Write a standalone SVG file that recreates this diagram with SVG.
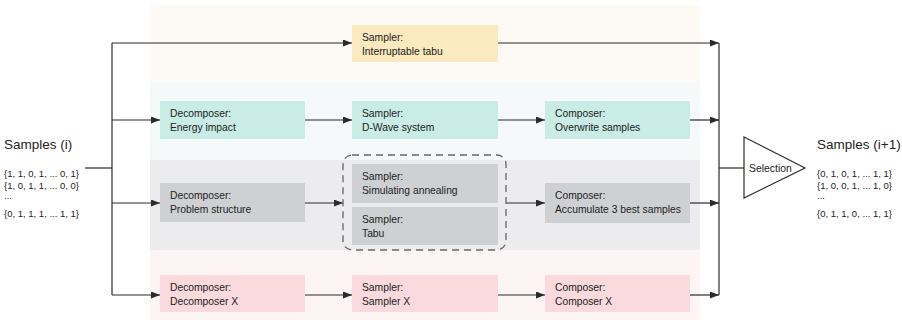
<svg xmlns="http://www.w3.org/2000/svg" width="902" height="320" viewBox="0 0 902 320">
  <defs>
    <marker id="arrow" markerWidth="9" markerHeight="7" refX="9" refY="3.5" orient="auto" markerUnits="userSpaceOnUse">
      <path d="M0,0 L9,3.5 L0,7 Z" fill="#2b2b2b"/>
    </marker>
    <style>
      text { font-family: "Liberation Sans", Arial, sans-serif; fill: #222; }
      .lbl { font-size: 10.3px; }
      .big { font-size: 13.5px; }
      .list { font-size: 9.5px; }
      .wire { fill: none; stroke: #2b2b2b; stroke-width: 1.2; }
      .arr { fill: none; stroke: #2b2b2b; stroke-width: 1.2; marker-end: url(#arrow); }
      .yellow { fill: #fbe9bf; }
      .teal { fill: #c9ece6; }
      .gray { fill: #cfd0d4; }
      .pink { fill: #fadadc; }
    </style>
  </defs>

  <rect width="902" height="320" fill="#ffffff"/>

  <!-- background lanes -->
  <g id="lanes">
    <rect x="150" y="5" width="550" height="77" fill="#fdfaf5"/>
    <rect x="150" y="82" width="550" height="78" fill="#f5f9f9"/>
    <rect x="150" y="160" width="550" height="90" fill="#ececee"/>
    <rect x="150" y="250" width="550" height="70" fill="#fdf4f4"/>
  </g>

  <!-- connectors -->
  <g id="connectors">
    <path class="wire" d="M85,168 H112"/>
    <path class="wire" d="M112,43 V295"/>
    <path class="arr" d="M112,43 H352"/>
    <path class="arr" d="M112,120 H160"/>
    <path class="arr" d="M112,203 H160"/>
    <path class="arr" d="M112,295 H160"/>

    <path class="arr" d="M305,120 H352"/>
    <path class="arr" d="M498,120 H545"/>
    <path class="arr" d="M305,203 H343"/>
    <path class="arr" d="M506,203 H545"/>
    <path class="arr" d="M305,295 H352"/>
    <path class="arr" d="M498,295 H545"/>

    <path class="arr" d="M498,43 H719"/>
    <path class="arr" d="M690,120 H719"/>
    <path class="arr" d="M690,203 H719"/>
    <path class="arr" d="M690,295 H719"/>
    <path class="wire" d="M719,43 V295"/>
    <path class="wire" d="M719,168 H744"/>
  </g>

  <!-- input samples -->
  <g id="samples-in">
    <text class="big" x="4" y="149">Samples (i)</text>
    <text class="list" x="4" y="177">{1, 1, 0, 1, ... 0, 1}</text>
    <text class="list" x="4" y="189">{1, 0, 1, 1, ... 0, 0}</text>
    <text class="list" x="4" y="199">...</text>
    <text class="list" x="4" y="217">{0, 1, 1, 1, ... 1, 1}</text>
  </g>

  <!-- row 1 -->
  <g id="sampler-tabu">
    <rect class="yellow" x="352" y="25" width="146" height="37"/>
    <text class="lbl" x="362" y="41">Sampler:</text>
    <text class="lbl" x="362" y="55">Interruptable tabu</text>
  </g>

  <!-- row 2 -->
  <g id="decomposer-energy">
    <rect class="teal" x="160" y="101" width="145" height="38"/>
    <text class="lbl" x="170" y="117">Decomposer:</text>
    <text class="lbl" x="170" y="131">Energy impact</text>
  </g>
  <g id="sampler-dwave">
    <rect class="teal" x="352" y="101" width="146" height="38"/>
    <text class="lbl" x="362" y="117">Sampler:</text>
    <text class="lbl" x="362" y="131">D-Wave system</text>
  </g>
  <g id="composer-overwrite">
    <rect class="teal" x="545" y="101" width="145" height="38"/>
    <text class="lbl" x="555" y="117">Composer:</text>
    <text class="lbl" x="555" y="131">Overwrite samples</text>
  </g>

  <!-- row 3 -->
  <g id="decomposer-structure">
    <rect class="gray" x="160" y="183" width="145" height="39"/>
    <text class="lbl" x="170" y="199">Decomposer:</text>
    <text class="lbl" x="170" y="213">Problem structure</text>
  </g>
  <g id="sampler-group">
    <rect x="343" y="155" width="163" height="95" rx="9" fill="none" stroke="#666" stroke-width="1.3" stroke-dasharray="7,5"/>
    <g id="sampler-annealing">
      <rect class="gray" x="352" y="164" width="146" height="39"/>
      <text class="lbl" x="362" y="180">Sampler:</text>
      <text class="lbl" x="362" y="194">Simulating annealing</text>
    </g>
    <g id="sampler-tabu-2">
      <rect class="gray" x="352" y="207" width="146" height="38"/>
      <text class="lbl" x="362" y="223">Sampler:</text>
      <text class="lbl" x="362" y="237">Tabu</text>
    </g>
  </g>
  <g id="composer-accumulate">
    <rect class="gray" x="545" y="183" width="145" height="40"/>
    <text class="lbl" x="555" y="199">Composer:</text>
    <text class="lbl" x="555" y="213">Accumulate 3 best samples</text>
  </g>

  <!-- row 4 -->
  <g id="decomposer-x">
    <rect class="pink" x="160" y="275" width="145" height="37"/>
    <text class="lbl" x="170" y="291">Decomposer:</text>
    <text class="lbl" x="170" y="305">Decomposer X</text>
  </g>
  <g id="sampler-x">
    <rect class="pink" x="352" y="275" width="146" height="37"/>
    <text class="lbl" x="362" y="291">Sampler:</text>
    <text class="lbl" x="362" y="305">Sampler X</text>
  </g>
  <g id="composer-x">
    <rect class="pink" x="545" y="275" width="145" height="37"/>
    <text class="lbl" x="555" y="291">Composer:</text>
    <text class="lbl" x="555" y="305">Composer X</text>
  </g>

  <!-- selection -->
  <g id="selection">
    <path d="M744,137 L805,168 L744,198 Z" fill="#ffffff" stroke="#2b2b2b" stroke-width="1.2"/>
    <text class="lbl" x="749" y="171.5" style="font-size:10.4px">Selection</text>
  </g>

  <!-- output samples -->
  <g id="samples-out">
    <text class="big" x="817" y="149">Samples (i+1)</text>
    <text class="list" x="817" y="177">{0, 1, 0, 1, ... 1, 1}</text>
    <text class="list" x="817" y="189">{1, 0, 0, 1, ... 1, 0}</text>
    <text class="list" x="817" y="199">...</text>
    <text class="list" x="817" y="217">{0, 1, 1, 0, ... 1, 1}</text>
  </g>
</svg>
